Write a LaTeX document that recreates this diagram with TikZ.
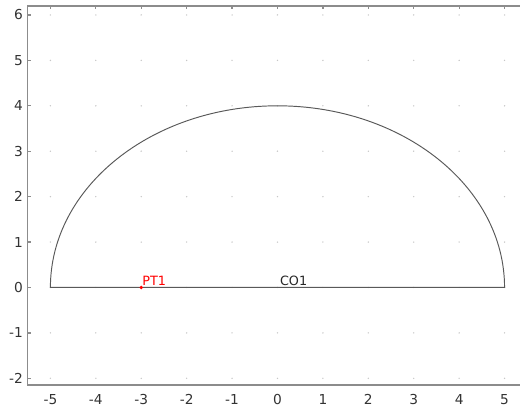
\documentclass[tikz,border=0pt]{standalone}
\usepackage{fontspec}
\setmainfont{DejaVu Sans}
\begin{document}
\begin{tikzpicture}[
  axisline/.style={draw=black!45, line width=0.9pt},
  geomline/.style={draw=black!65, line width=0.6pt},
  gridpt/.style={fill=black!22},
  ticklbl/.style={font=\fontsize{8.6}{10}\selectfont, text=black!80, inner sep=0pt},
  geomlbl/.style={font=\fontsize{8}{9.5}\selectfont, inner sep=0pt, anchor=south west}
]
\useasboundingbox (-6.11,-2.745) rectangle (5.34,6.33);
% grid dots
\foreach \x in {-5,...,5}
  \foreach \y in {-2,...,6}
    \fill[gridpt] (\x,\y) circle (0.017);
% axes frame
\draw[axisline] (5.34,6.2) -- (-5.5,6.2) -- (-5.5,-2.15) -- (5.34,-2.15);
% ticks
\foreach \x in {-5,...,5}
  \draw[black!45, line width=0.8pt] (\x,6.2) -- (\x,6.13);
\foreach \y in {-2,...,6}
  \draw[black!45, line width=0.8pt] (-5.5,\y) -- (-5.43,\y);
% tick labels
\foreach \x in {-5,...,5}
  \node[ticklbl, anchor=north] (xl\x) at (\x,-2.34) {\x};
\foreach \y in {-2,...,6}
  \node[ticklbl, anchor=east] (yl\y) at (-5.6,\y) {\y};
% geometry
\coordinate (A) at (-5,0);
\coordinate (B) at (5,0);
\draw[geomline] (A) arc[start angle=180, end angle=0, x radius=5, y radius=4] -- (A) -- cycle;
% point
\coordinate (P) at (-3,0);
\fill[red] (P) circle (0.04);
\node[geomlbl, text=red] (pt1) at (-2.98,0.03) {PT1};
\coordinate (C) at (0,0);
\node[geomlbl, text=black!85] (co1) at (0.05,0.03) {CO1};
\end{tikzpicture}
\end{document}
